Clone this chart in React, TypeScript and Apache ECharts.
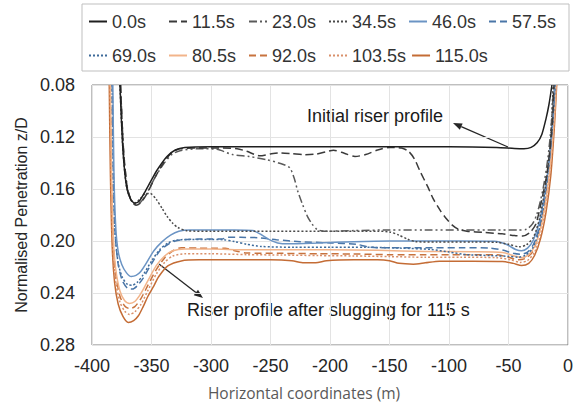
import React, { useEffect, useRef } from "react";
import * as echarts from "echarts";

const seriesNames = ["0.0s", "11.5s", "23.0s", "34.5s", "46.0s", "57.5s", "69.0s", "80.5s", "92.0s", "103.5s", "115.0s"];
const xTickValues = [-400, -350, -300, -250, -200, -150, -100, -50, 0];
const yTickValues = [0.08, 0.12, 0.16, 0.2, 0.24, 0.28];

const t000 = [[-376.5,0.08],[-374,0.13],[-371,0.158],[-367.5,0.168],[-364,0.171],[-360,0.169],[-356,0.163],[-350,0.153],[-345,0.145],[-337,0.135],[-330,0.13],[-322,0.128],[-300,0.1275],[-250,0.1275],[-200,0.1275],[-150,0.1275],[-100,0.1275],[-60,0.128],[-45,0.1288],[-37,0.129],[-31,0.128],[-26,0.1245],[-22,0.118],[-18.5,0.106],[-16,0.095],[-13.5,0.08]];
const t115 = [[-376,0.08],[-373.5,0.13],[-370.5,0.158],[-367,0.169],[-363,0.1725],[-359,0.1705],[-354,0.164],[-347,0.151],[-340,0.14],[-333,0.132],[-326,0.129],[-310,0.1285],[-290,0.1285],[-278,0.129],[-270,0.131],[-259,0.1345],[-250,0.133],[-243,0.1322],[-232,0.1328],[-222,0.1336],[-212,0.1332],[-204,0.1315],[-197,0.1302],[-188,0.1325],[-179,0.135],[-170,0.1335],[-160,0.13],[-150,0.128],[-140,0.1285],[-134,0.131],[-129,0.137],[-124,0.147],[-118,0.158],[-113,0.168],[-107,0.177],[-102,0.183],[-97,0.188],[-92,0.191],[-85,0.1925],[-70,0.1935],[-55,0.1945],[-45,0.1958],[-38,0.1962],[-32,0.1935],[-27,0.187],[-22,0.168],[-18,0.15],[-15,0.128],[-13,0.108],[-11.8,0.08]];
const t230 = [[-376,0.08],[-373.5,0.13],[-370.5,0.158],[-367,0.169],[-363,0.172],[-359,0.17],[-354,0.1635],[-347,0.151],[-340,0.141],[-333,0.1335],[-326,0.1305],[-310,0.129],[-295,0.1295],[-282,0.1335],[-268,0.135],[-253,0.1375],[-243,0.14],[-234,0.1435],[-230,0.152],[-227,0.162],[-223,0.172],[-219,0.181],[-215,0.187],[-211,0.191],[-205,0.1925],[-180,0.192],[-150,0.1915],[-120,0.1915],[-90,0.1915],[-60,0.1915],[-42,0.1915],[-35,0.191],[-30,0.187],[-26,0.179],[-21,0.16],[-17,0.137],[-14,0.11],[-12,0.08]];
const t345 = [[-376.5,0.08],[-374,0.13],[-371,0.158],[-367.5,0.168],[-364,0.1705],[-360,0.168],[-355,0.1635],[-351,0.1635],[-346,0.168],[-341,0.175],[-337,0.181],[-332,0.1865],[-328,0.1895],[-320,0.1922],[-300,0.1925],[-250,0.1925],[-200,0.1925],[-160,0.1925],[-150,0.193],[-142,0.1955],[-135,0.1985],[-128,0.2005],[-110,0.2008],[-80,0.2008],[-60,0.201],[-50,0.2025],[-41,0.2045],[-35,0.203],[-29,0.197],[-24,0.183],[-19,0.158],[-15,0.128],[-12.5,0.08]];
const t460 = [[-382.5,0.08],[-381.5,0.15],[-380,0.19],[-378,0.208],[-375,0.218],[-371,0.2245],[-367,0.2273],[-363,0.2265],[-359,0.2235],[-355,0.218],[-348,0.2075],[-341,0.2005],[-334,0.1955],[-327,0.1925],[-318,0.1915],[-300,0.1915],[-280,0.1915],[-265,0.192],[-258,0.195],[-251,0.199],[-244,0.2015],[-235,0.2022],[-210,0.2015],[-180,0.2005],[-150,0.2],[-120,0.2],[-90,0.2],[-62,0.2002],[-52,0.2025],[-44,0.2065],[-39,0.2075],[-34,0.2055],[-29,0.199],[-24,0.185],[-19,0.16],[-15,0.13],[-12.5,0.1],[-11.3,0.08]];
const t575 = [[-383,0.08],[-382,0.15],[-380.5,0.195],[-378,0.218],[-374.5,0.2305],[-370,0.2365],[-366,0.237],[-362,0.2345],[-357,0.2285],[-350,0.2175],[-343,0.2075],[-336,0.2025],[-330,0.2],[-320,0.1988],[-300,0.1985],[-291,0.1985],[-286,0.1972],[-275,0.1972],[-260,0.1975],[-245,0.199],[-225,0.2005],[-200,0.2015],[-178,0.2025],[-168,0.2045],[-158,0.2052],[-120,0.2052],[-90,0.2052],[-65,0.2055],[-55,0.207],[-46,0.2095],[-40,0.2102],[-34,0.2085],[-29,0.2025],[-24,0.189],[-19,0.162],[-15,0.132],[-12.3,0.1],[-11,0.08]];
const t690 = [[-383,0.08],[-382,0.15],[-380.5,0.195],[-378,0.217],[-374.5,0.228],[-370,0.2335],[-366,0.234],[-362,0.2318],[-357,0.226],[-350,0.2155],[-343,0.2065],[-336,0.2015],[-330,0.1995],[-320,0.1988],[-300,0.1988],[-290,0.199],[-280,0.2005],[-270,0.2025],[-258,0.2042],[-230,0.2048],[-200,0.2048],[-170,0.2048],[-140,0.2055],[-115,0.2065],[-100,0.2085],[-85,0.2105],[-65,0.2112],[-50,0.2118],[-42,0.2125],[-36,0.211],[-30,0.206],[-25,0.194],[-20,0.17],[-16,0.14],[-12.5,0.105],[-10.8,0.08]];
const t805 = [[-384.5,0.08],[-383.5,0.15],[-382,0.2],[-380,0.222],[-376.5,0.2385],[-372.5,0.246],[-368.5,0.248],[-364,0.2465],[-359,0.2405],[-353,0.2305],[-346,0.219],[-339,0.2115],[-332,0.2075],[-322,0.2062],[-300,0.2062],[-270,0.2068],[-240,0.2068],[-200,0.2068],[-160,0.2072],[-120,0.208],[-80,0.2082],[-55,0.2088],[-45,0.2115],[-39,0.2128],[-33,0.2105],[-28,0.204],[-23,0.19],[-18,0.165],[-14,0.133],[-11.2,0.1],[-10,0.08]];
const t920 = [[-384.5,0.08],[-383.5,0.15],[-382,0.202],[-380,0.226],[-376.5,0.2425],[-372.5,0.25],[-368.5,0.252],[-364,0.2505],[-359,0.2445],[-353,0.234],[-346,0.222],[-339,0.213],[-332,0.2075],[-325,0.2052],[-310,0.2055],[-296,0.2055],[-288,0.2055],[-280,0.2075],[-270,0.2092],[-240,0.2095],[-210,0.2098],[-180,0.21],[-150,0.2105],[-120,0.2105],[-90,0.2105],[-60,0.2105],[-50,0.2125],[-42,0.2145],[-36,0.2135],[-30,0.2085],[-25,0.196],[-20,0.172],[-15.5,0.138],[-12,0.1],[-10,0.08]];
const t1035 = [[-385,0.08],[-384,0.15],[-382.5,0.205],[-380,0.232],[-376.5,0.247],[-372.5,0.254],[-368.5,0.2565],[-364,0.2545],[-359,0.249],[-353,0.238],[-346,0.2255],[-339,0.2165],[-332,0.2115],[-322,0.2098],[-300,0.2098],[-270,0.2105],[-240,0.2108],[-210,0.2112],[-180,0.2115],[-150,0.212],[-120,0.2125],[-90,0.2125],[-60,0.2128],[-48,0.2145],[-40,0.2165],[-34,0.215],[-28,0.2085],[-23,0.195],[-18,0.17],[-14,0.137],[-11,0.1],[-9.8,0.08]];
const t1150 = [[-385.5,0.08],[-384.5,0.15],[-383,0.205],[-381,0.232],[-378,0.2485],[-374,0.258],[-369.5,0.2626],[-365,0.2612],[-361,0.2575],[-357,0.2505],[-353,0.2425],[-348,0.2345],[-344,0.2275],[-336,0.219],[-325,0.2153],[-310,0.2145],[-280,0.2145],[-250,0.2145],[-232,0.2152],[-222,0.2168],[-212,0.2168],[-203,0.2152],[-180,0.2145],[-160,0.2145],[-150,0.2152],[-142,0.2172],[-130,0.2178],[-120,0.2168],[-108,0.2155],[-80,0.2155],[-55,0.2158],[-46,0.2172],[-39,0.2188],[-33,0.2172],[-28,0.211],[-23,0.198],[-18.5,0.178],[-14.5,0.15],[-11.5,0.113],[-9.5,0.08]];

const seriesData = [t000, t115, t230, t345, t460, t575, t690, t805, t920, t1035, t1150];

const seriesStyles: any[] = [
  { color: "#1f1f1f", type: "solid" },
  { color: "#3a3a3a", type: [8, 4] },
  { color: "#5a5a5a", type: [8, 3, 2, 3, 2, 3] },
  { color: "#4a4a4a", type: [2, 2] },
  { color: "#6b94c4", type: "solid" },
  { color: "#4a76a8", type: [7, 4] },
  { color: "#3d6a9a", type: [2, 2] },
  { color: "#f2b48a", type: "solid" },
  { color: "#c8733e", type: [7, 4] },
  { color: "#d9906a", type: [2, 2] },
  { color: "#c46c35", type: "solid" },
];

function arrow(x1: number, y1: number, x2: number, y2: number) {
  const ang = Math.atan2(y2 - y1, x2 - x1);
  const len = 9;
  const w = 3.5;
  const bx = x2 - len * Math.cos(ang);
  const by = y2 - len * Math.sin(ang);
  const px = -Math.sin(ang) * w;
  const py = Math.cos(ang) * w;
  return [
    { type: "line", shape: { x1, y1, x2: bx, y2: by }, style: { stroke: "#262626", lineWidth: 1.3 } },
    { type: "polygon", shape: { points: [[x2, y2], [bx + px, by + py], [bx - px, by - py]] }, style: { fill: "#262626" } },
  ];
}

export default function App() {
  const ref = useRef<HTMLDivElement>(null);
  useEffect(() => {
    if (!ref.current) return;
    const chart = echarts.init(ref.current, null, { renderer: "svg" });
    const font = "'Liberation Sans', Arial, sans-serif";
    chart.setOption({
      animation: false,
      backgroundColor: "#ffffff",
      grid: { left: 92, right: 14, top: 85, bottom: 60, show: true, borderColor: "#7f7f7f", borderWidth: 1 },
      legend: {
        data: seriesNames,
        left: 82,
        top: 4,
        width: 475,
        itemWidth: 18,
        itemHeight: 10,
        itemGap: 5,
        padding: [3, 6, 1, 6],
        borderColor: "#bfbfbf",
        borderWidth: 1,
        itemStyle: { opacity: 0 },
        textStyle: { fontSize: 18, fontFamily: font, color: "#333333", width: 51, lineHeight: 29 },
      },
      xAxis: {
        type: "value",
        min: -400,
        max: 0,
        interval: 50,
        name: "Horizontal coordinates (m)",
        nameLocation: "middle",
        nameGap: 40,
        nameTextStyle: { fontSize: 15.5, fontFamily: "'Open Sans', sans-serif", color: "#595959", padding: [0, 52, 0, 0] },
        axisLine: { show: false },
        axisTick: { show: false },
        axisLabel: { fontSize: 18, fontFamily: font, color: "#262626", margin: 12, formatter: (v: number) => (xTickValues.includes(v) ? String(v) : "") },
        splitLine: { show: true, lineStyle: { color: "#e3e3e3", width: 1 } },
      },
      yAxis: {
        type: "value",
        inverse: true,
        min: 0.08,
        max: 0.28,
        interval: 0.04,
        name: "Normalised Penetration z/D",
        nameLocation: "middle",
        nameGap: 59,
        nameTextStyle: { fontSize: 16, fontFamily: font, color: "#262626" },
        axisLine: { show: false },
        axisTick: { show: false },
        axisLabel: { fontSize: 18, fontFamily: font, color: "#262626", margin: 17, formatter: (v: number) => v.toFixed(2) },
        splitLine: { show: true, lineStyle: { color: "#e3e3e3", width: 1 } },
      },
      series: seriesNames.map((name, i) => ({
        name,
        type: "line",
        data: seriesData[i],
        symbol: "none",
        smooth: 0.25,
        clip: true,
        lineStyle: { color: seriesStyles[i].color, type: seriesStyles[i].type, width: 1.5 },
        itemStyle: { color: seriesStyles[i].color },
        z: 20 - i,
      })),
      graphic: [
        { type: "text", x: 307, y: 116, style: { text: "Initial riser profile", fontSize: 18, fontFamily: font, fill: "#1a1a1a", verticalAlign: "middle" } },
        ...arrow(508, 147, 453, 123),
        { type: "text", x: 187, y: 310, style: { text: "Riser profile after slugging for 115 s", fontSize: 18, fontFamily: font, fill: "#1a1a1a", verticalAlign: "middle" } },
        ...arrow(159, 264, 203, 298),
      ],
    });
    return () => chart.dispose();
  }, []);
  return <div ref={ref} style={{ position: "absolute", left: 0, top: 0, width: 582, height: 406 }} />;
}
